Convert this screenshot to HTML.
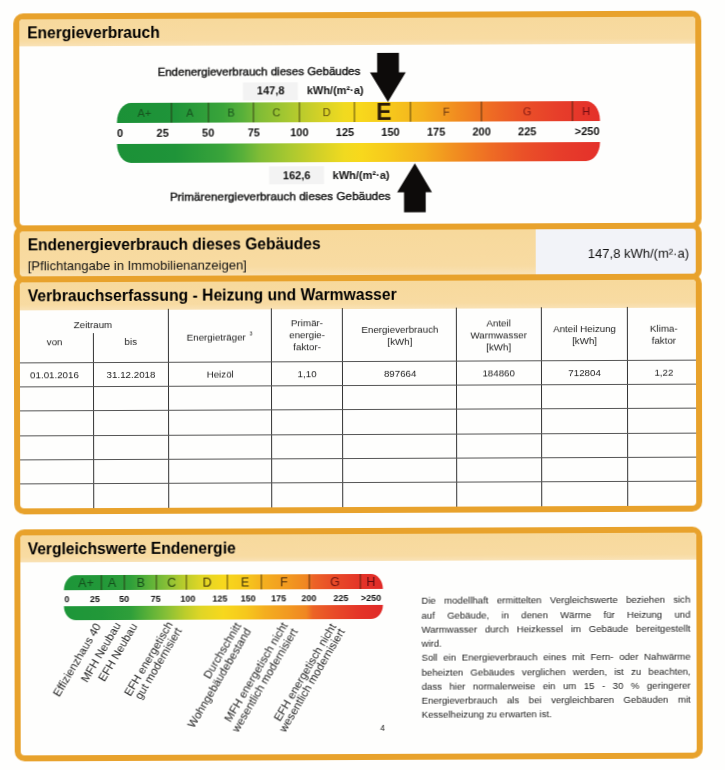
<!DOCTYPE html>
<html lang="de">
<head>
<meta charset="utf-8">
<title>Energieverbrauch</title>
<style>
html,body{margin:0;padding:0;background:#fefefd;}
body{width:725px;height:770px;overflow:hidden;position:relative;font-family:"Liberation Sans",Arial,sans-serif;color:#121212;line-height:1;}
#pg{position:absolute;left:0;top:0;width:725px;height:770px;filter:blur(0.3px);transform:matrix(1,-0.0041,0.002,1,0,0);transform-origin:362px 385px;}
.abs{position:absolute;}
.t{position:absolute;white-space:nowrap;}
.b{font-weight:bold;}
.m{font-weight:normal;-webkit-text-stroke:0.4px #121212;}
.c{text-align:center;}
.box{position:absolute;box-sizing:border-box;border:6px solid #e8a22c;border-radius:10px;background:#fefefd;overflow:hidden;}
.hd{position:absolute;left:0;right:0;top:0;background:linear-gradient(180deg,#f7d99c 0%,#f8dba2 80%,#f9e2b6 100%);}
.h{position:absolute;font-weight:bold;font-size:15.6px;white-space:nowrap;color:#000;}
.bar{position:absolute;background:linear-gradient(90deg,#1b9137 0%,#1f9439 12%,#3aa43a 22%,#58b03a 26%,#80bc36 29.5%,#a8c830 35.5%,#d0d028 41.5%,#f0da20 47%,#f8d81c 50.5%,#f6c81c 56.5%,#f4b01e 63.4%,#f18c20 70.4%,#ee6c24 77.3%,#ea5028 84.3%,#e73e2a 91.2%,#e4302a 100%);}
.sbar{background:linear-gradient(90deg,#1d9639 0%,#229839 12%,#2f9f3a 21%,#5db238 27%,#85bf37 32%,#bccd2b 38%,#e0d626 43%,#f7d81d 50%,#f6c81d 57%,#f4ae1f 63%,#f29a20 70%,#f08622 76%,#ec6426 78%,#e84a28 85%,#e43428 93%,#e02a28 100%);}
.seg{position:absolute;top:0;bottom:0;border-left:1px solid rgba(40,30,10,0.75);}
.lt{position:absolute;top:0;bottom:0;display:flex;align-items:center;justify-content:center;font-size:11px;}
.num{position:absolute;font-weight:bold;font-size:11px;white-space:nowrap;}
.tl{position:absolute;background:#333;}
.tlh{background:#555;}
.tc{position:absolute;font-size:9.75px;white-space:nowrap;text-align:center;color:#1a1a1a;}
.p{position:absolute;font-size:9.6px;color:#1a1a1a;}
</style>
</head>
<body>
<div id="pg">
<div class="box" style="left:14.2px;top:11.75px;width:688.2px;height:217.95px;"><div class="hd" style="height:26.95px;"></div></div>
<div class="box" style="left:14.2px;top:223.7px;width:688.2px;height:57.1px;background:#f8dba0;"><div class="hd" style="height:100%;"></div><div class="abs" style="left:516px;top:0;right:0;bottom:0;background:#f2f3f8;"></div></div>
<div class="box" style="left:14.2px;top:274.8px;width:688.2px;height:237.96px;"><div class="hd" style="height:27.8px;"></div></div>
<div class="box" style="left:14.2px;top:527.5px;width:688.2px;height:232.4px;"><div class="hd" style="height:27.9px;"></div></div>
<div class="h" style="left:27.9px;top:24.3px;">Energieverbrauch</div>
<div class="h" style="left:27.9px;top:235.8px;">Endenergieverbrauch dieses Gebäudes</div>
<div class="t" style="left:28px;top:258.1px;font-size:13px;">[Pflichtangabe in Immobilienanzeigen]</div>
<div class="t" style="left:588.1px;top:247.6px;font-size:13px;">147,8 kWh/(m²·a)</div>
<div class="h" style="left:27.9px;top:287.0px;letter-spacing:0.05px;">Verbrauchserfassung - Heizung und Warmwasser</div>
<div class="h" style="left:27.4px;top:539.7px;">Vergleichswerte Endenergie</div>
<div class="abs" style="left:0;top:0;transform:translateX(-0.5px);">
<div class="t m" style="left:158.8px;top:65.7px;font-size:11.5px;">Endenergieverbrauch dieses Gebäudes</div>
<div class="abs" style="left:243.6px;top:82.3px;width:55.1px;height:17.3px;background:#f3f3f3;"></div>
<div class="t b" style="left:258.1px;top:84.6px;font-size:11px;">147,8</div>
<div class="t b" style="left:307.9px;top:84.6px;font-size:11px;">kWh/(m²·a)</div>
<div class="bar" style="left:118.1px;top:102.4px;width:482.5px;height:19.6px;border-radius:14px 14px 0 0/19px 19px 0 0;">
  <div class="seg" style="left:54.2px;"></div>
  <div class="seg" style="left:90.7px;"></div>
  <div class="seg" style="left:136.2px;"></div>
  <div class="seg" style="left:181.8px;"></div>
  <div class="seg" style="left:236.5px;"></div>
  <div class="seg" style="left:293.3px;"></div>
  <div class="seg" style="left:364.1px;"></div>
  <div class="seg" style="left:455.2px;"></div>
  <div class="lt" style="left:0.0px;width:54.7px;color:#17521e;">A+</div>
  <div class="lt" style="left:54.7px;width:36.5px;color:#17521e;">A</div>
  <div class="lt" style="left:91.2px;width:45.6px;color:#1a541c;">B</div>
  <div class="lt" style="left:136.7px;width:45.6px;color:#3e5212;">C</div>
  <div class="lt" style="left:182.3px;width:54.7px;color:#5a4a0e;">D</div>
  <div class="lt" style="left:237.0px;width:56.8px;font-size:23px;font-weight:bold;color:#2a1a08;top:1.2px;padding-left:1.5px;">E</div>
  <div class="lt" style="left:293.8px;width:70.8px;color:#6a3610;">F</div>
  <div class="lt" style="left:364.6px;width:91.2px;color:#861a14;">G</div>
  <div class="lt" style="left:455.8px;width:26.8px;color:#700c12;">H</div>
</div>
<div class="num" style="left:118.1px;top:127.1px;">0</div>
<div class="num c" style="left:143.7px;width:40px;top:127.1px;">25</div>
<div class="num c" style="left:189.2px;width:40px;top:127.1px;">50</div>
<div class="num c" style="left:234.8px;width:40px;top:127.1px;">75</div>
<div class="num c" style="left:280.4px;width:40px;top:127.1px;">100</div>
<div class="num c" style="left:326.0px;width:40px;top:127.1px;">125</div>
<div class="num c" style="left:371.5px;width:40px;top:127.1px;">150</div>
<div class="num c" style="left:417.1px;width:40px;top:127.1px;">175</div>
<div class="num c" style="left:462.7px;width:40px;top:127.1px;">200</div>
<div class="num c" style="left:508.3px;width:40px;top:127.1px;">225</div>
<div class="num" style="left:560.6px;width:40px;text-align:right;top:127.1px;">&gt;250</div>
<div class="bar" style="left:118.1px;top:143.2px;width:482.5px;height:19.2px;border-radius:0 0 14px 14px/0 0 19px 19px;"></div>
<div class="abs" style="left:270.1px;top:166.3px;width:54.7px;height:18.2px;background:#f3f3f3;"></div>
<div class="t b" style="left:283.8px;top:170.3px;font-size:11px;">162,6</div>
<div class="t b" style="left:333.6px;top:170.3px;font-size:11px;">kWh/(m²·a)</div>
<div class="t m" style="left:170.7px;top:189.5px;font-size:11.75px;">Primärenergieverbrauch dieses Gebäudes</div>
<svg class="abs" style="left:0;top:0;" width="725" height="240" viewBox="0 0 725 240">
  <polygon fill="#0d0b0a" points="378.3,52.9 400.1,52.9 400.1,72.6 406.9,72.6 389,102.1 371.1,72.6 378.3,72.6"/>
  <polygon fill="#0d0b0a" points="415.8,163.4 432.9,192.4 426.6,192.4 426.6,212.6 404.9,212.6 404.9,192.4 398,192.4"/>
</svg>
</div>
<div class="tl" style="left:92.5px;top:332px;width:1px;height:174.7px;"></div>
<div class="tl" style="left:168.3px;top:308px;width:1px;height:198.7px;"></div>
<div class="tl" style="left:271.4px;top:308px;width:1px;height:198.7px;"></div>
<div class="tl" style="left:341.7px;top:308px;width:1px;height:198.7px;"></div>
<div class="tl" style="left:456.1px;top:308px;width:1px;height:198.7px;"></div>
<div class="tl" style="left:541.3px;top:308px;width:1px;height:198.7px;"></div>
<div class="tl" style="left:627.2px;top:308px;width:1px;height:198.7px;"></div>
<div class="tl tlh" style="left:20.2px;top:361.0px;width:676.2px;height:1px;"></div>
<div class="tl tlh" style="left:20.2px;top:385.1px;width:676.2px;height:1px;"></div>
<div class="tl tlh" style="left:20.2px;top:409.4px;width:676.2px;height:1px;"></div>
<div class="tl tlh" style="left:20.2px;top:433.8px;width:676.2px;height:1px;"></div>
<div class="tl tlh" style="left:20.2px;top:457.9px;width:676.2px;height:1px;"></div>
<div class="tl tlh" style="left:20.2px;top:482.2px;width:676.2px;height:1px;"></div>
<div class="tc" style="left:38.0px;width:110px;top:318.7px;font-size:9.75px;">Zeitraum</div>
<div class="tc" style="left:19.7px;width:70px;top:335.9px;font-size:9.75px;">von</div>
<div class="tc" style="left:95.8px;width:70px;top:336.2px;font-size:9.75px;">bis</div>
<div class="tc" style="left:164.7px;width:110px;top:331.3px;font-size:9.75px;">Energieträger <sup style="font-size:5.5px;vertical-align:4.5px;margin-left:1px;">3</sup></div>
<div class="tc" style="left:273.1px;width:68px;top:317.9px;font-size:9.75px;">Primär-</div>
<div class="tc" style="left:273.1px;width:68px;top:330.3px;font-size:9.75px;">energie-</div>
<div class="tc" style="left:273.1px;width:68px;top:342.4px;font-size:9.75px;">faktor-</div>
<div class="tc" style="left:345.0px;width:110px;top:324.8px;font-size:9.75px;">Energieverbrauch</div>
<div class="tc" style="left:345.0px;width:110px;top:336.5px;font-size:9.75px;">[kWh]</div>
<div class="tc" style="left:456.7px;width:84px;top:318.5px;font-size:9.75px;">Anteil</div>
<div class="tc" style="left:456.7px;width:84px;top:331.0px;font-size:9.75px;">Warmwasser</div>
<div class="tc" style="left:456.7px;width:84px;top:342.6px;font-size:9.75px;">[kWh]</div>
<div class="tc" style="left:542.6px;width:84px;top:324.6px;font-size:9.75px;">Anteil Heizung</div>
<div class="tc" style="left:542.6px;width:84px;top:336.6px;font-size:9.75px;">[kWh]</div>
<div class="tc" style="left:629.9px;width:68px;top:325.4px;font-size:9.75px;">Klima-</div>
<div class="tc" style="left:629.9px;width:68px;top:337.0px;font-size:9.75px;">faktor</div>
<div class="tc" style="left:14.5px;width:80px;top:368.5px;font-size:9.75px;">01.01.2016</div>
<div class="tc" style="left:91.0px;width:80px;top:368.5px;font-size:9.75px;">31.12.2018</div>
<div class="tc" style="left:180.2px;width:80px;top:368.5px;font-size:9.75px;">Heizöl</div>
<div class="tc" style="left:267.1px;width:80px;top:368.5px;font-size:9.75px;">1,10</div>
<div class="tc" style="left:360.2px;width:80px;top:368.5px;font-size:9.75px;">897664</div>
<div class="tc" style="left:458.7px;width:80px;top:368.5px;font-size:9.75px;">184860</div>
<div class="tc" style="left:544.6px;width:80px;top:368.5px;font-size:9.75px;">712804</div>
<div class="tc" style="left:623.9px;width:80px;top:368.5px;font-size:9.75px;">1,22</div>
<div class="abs" style="left:0;top:0;transform:translateX(0.5px);">
<div class="bar sbar" style="left:62.5px;top:574.1px;width:319.3px;height:15px;border-radius:12px 12px 0 0/15px 15px 0 0;">
  <div class="seg" style="left:37.6px;"></div>
  <div class="seg" style="left:60.7px;"></div>
  <div class="seg" style="left:92.9px;"></div>
  <div class="seg" style="left:122.7px;"></div>
  <div class="seg" style="left:163.2px;"></div>
  <div class="seg" style="left:197.8px;"></div>
  <div class="seg" style="left:245.0px;"></div>
  <div class="seg" style="left:296.3px;"></div>
  <div class="lt" style="left:2.7px;width:40px;font-size:12.5px;padding-top:2px;color:#14501c;">A+</div>
  <div class="lt" style="left:28.7px;width:40px;font-size:12.5px;padding-top:2px;color:#14501c;">A</div>
  <div class="lt" style="left:57.3px;width:40px;font-size:12.5px;padding-top:2px;color:#164e1a;">B</div>
  <div class="lt" style="left:88.3px;width:40px;font-size:12.5px;padding-top:2px;color:#2f4a10;">C</div>
  <div class="lt" style="left:123.7px;width:40px;font-size:12.5px;padding-top:2px;color:#3e330a;">D</div>
  <div class="lt" style="left:161.7px;width:40px;font-size:12.5px;padding-top:2px;color:#3e330a;">E</div>
  <div class="lt" style="left:200.6px;width:40px;font-size:12.5px;padding-top:2px;color:#4e2c0a;">F</div>
  <div class="lt" style="left:251.7px;width:40px;font-size:12.5px;padding-top:2px;color:#6e1410;">G</div>
  <div class="lt" style="left:287.6px;width:40px;font-size:12.5px;padding-top:2px;color:#600a10;">H</div>
</div>
<div class="num c" style="left:46.1px;width:40px;top:593.6px;font-size:9px;">0</div>
<div class="num c" style="left:73.9px;width:40px;top:593.6px;font-size:9px;">25</div>
<div class="num c" style="left:103.2px;width:40px;top:593.6px;font-size:9px;">50</div>
<div class="num c" style="left:134.7px;width:40px;top:593.6px;font-size:9px;">75</div>
<div class="num c" style="left:167.0px;width:40px;top:593.6px;font-size:9px;">100</div>
<div class="num c" style="left:198.9px;width:40px;top:593.6px;font-size:9px;">125</div>
<div class="num c" style="left:227.2px;width:40px;top:593.6px;font-size:9px;">150</div>
<div class="num c" style="left:257.8px;width:40px;top:593.6px;font-size:9px;">175</div>
<div class="num c" style="left:288.0px;width:40px;top:593.6px;font-size:9px;">200</div>
<div class="num c" style="left:319.9px;width:40px;top:593.6px;font-size:9px;">225</div>
<div class="num c" style="left:350.1px;width:40px;top:593.6px;font-size:9px;">&gt;250</div>
<div class="bar sbar" style="left:62.5px;top:605.4px;width:319.3px;height:13.8px;border-radius:0 0 12px 12px/0 0 14px 14px;"></div>
<svg class="abs" style="left:0;top:0;" width="725" height="770" viewBox="0 0 725 770" font-family="Liberation Sans, Arial, sans-serif" font-size="11.3" fill="#1c1c1c">
  <text x="100.3" y="625.2" text-anchor="end" transform="rotate(-59.3 100.3 625.2)">Effizienzhaus 40</text>
  <text x="120.2" y="624.2" text-anchor="end" transform="rotate(-59.3 120.2 624.2)">MFH Neubau</text>
  <text x="136.7" y="625.2" text-anchor="end" transform="rotate(-59.3 136.7 625.2)">EFH Neubau</text>
  <text x="172.2" y="623.7" text-anchor="end" transform="rotate(-59.3 172.2 623.7)">EFH energetisch</text>
  <text x="181.2" y="629.7" text-anchor="end" transform="rotate(-59.3 181.2 629.7)">gut modernisiert</text>
  <text x="240.5" y="625" text-anchor="end" transform="rotate(-59.3 240.5 625)">Durchschnitt</text>
  <text x="250.5" y="630.5" text-anchor="end" transform="rotate(-59.3 250.5 630.5)">Wohngebäudebestand</text>
  <text x="287" y="625" text-anchor="end" transform="rotate(-59.3 287 625)">MFH energetisch nicht</text>
  <text x="297" y="631" text-anchor="end" transform="rotate(-59.3 297 631)">wesentlich modernisiert</text>
  <text x="335.5" y="626.3" text-anchor="end" transform="rotate(-59.3 335.5 626.3)">EFH energetisch nicht</text>
  <text x="344.2" y="631.3" text-anchor="end" transform="rotate(-59.3 344.2 631.3)">wesentlich modernisiert</text>
  <text x="381.4" y="730.6" font-size="8.5" text-anchor="middle">4</text>
</svg>
<div class="p" style="left:420.5px;width:269px;top:596.4px;text-align:justify;text-align-last:justify;">Die modellhaft ermittelten Vergleichswerte beziehen sich</div>
<div class="p" style="left:420.5px;width:269px;top:610.6px;text-align:justify;text-align-last:justify;">auf Gebäude, in denen Wärme für Heizung und</div>
<div class="p" style="left:420.5px;width:269px;top:624.9px;text-align:justify;text-align-last:justify;">Warmwasser durch Heizkessel im Gebäude bereitgestellt</div>
<div class="p" style="left:420.5px;width:269px;top:639.1px;">wird.</div>
<div class="p" style="left:420.5px;width:269px;top:653.3px;text-align:justify;text-align-last:justify;">Soll ein Energieverbrauch eines mit Fern- oder Nahwärme</div>
<div class="p" style="left:420.5px;width:269px;top:667.6px;text-align:justify;text-align-last:justify;">beheizten Gebäudes verglichen werden, ist zu beachten,</div>
<div class="p" style="left:420.5px;width:269px;top:681.8px;text-align:justify;text-align-last:justify;">dass hier normalerweise ein um 15 - 30 % geringerer</div>
<div class="p" style="left:420.5px;width:269px;top:696.1px;text-align:justify;text-align-last:justify;">Energieverbrauch als bei vergleichbaren Gebäuden mit</div>
<div class="p" style="left:420.5px;width:269px;top:710.3px;">Kesselheizung zu erwarten ist.</div>
</div>
</div>
</body>
</html>
